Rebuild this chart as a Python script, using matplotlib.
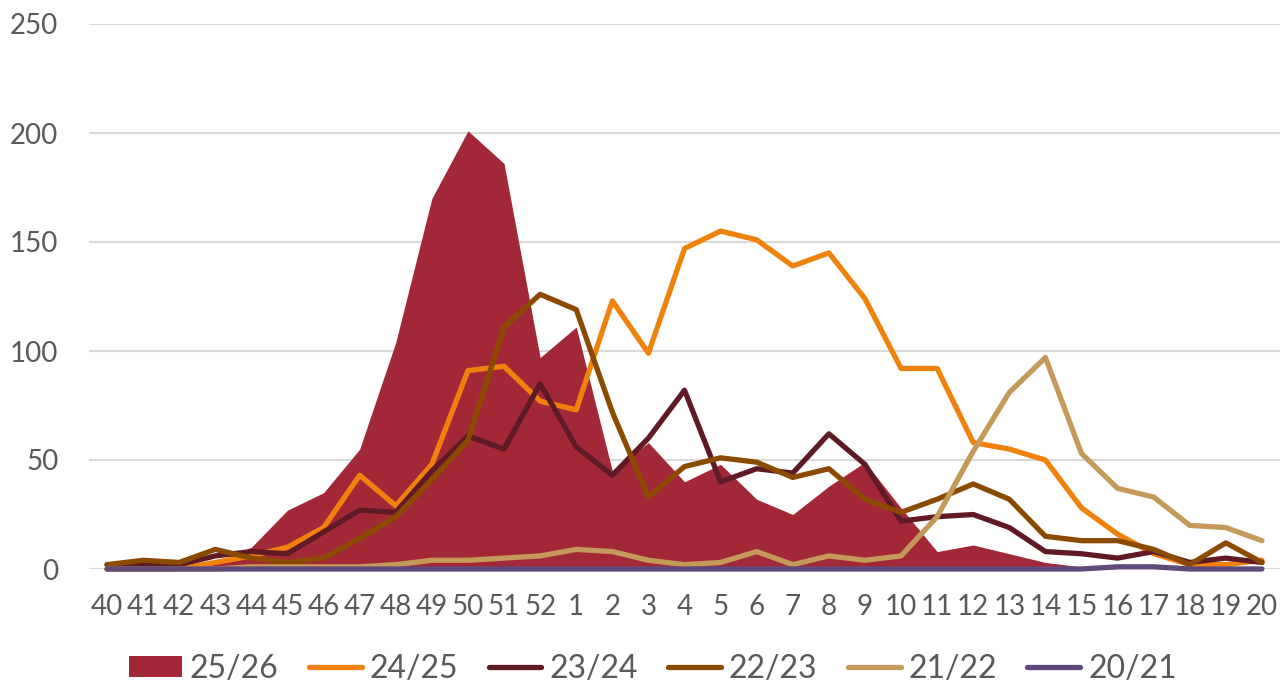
import matplotlib
matplotlib.use('Agg')
from matplotlib import pyplot as plt
import numpy as np

plt.rcParams['font.family'] = ['Lato', 'DejaVu Sans']

weeks = [str(w) for w in range(40, 53)] + [str(w) for w in range(1, 21)]

s2526 = [1, 1, 1, 3, 10, 27, 35, 55, 104, 170, 201, 186, 97, 111, 45, 58, 40,
         48, 32, 25, 38, 49, 28, 8, 11, 7, 3, 1, 0, 0, 0, 0, 0]
s2425 = [0, 0, 0, 3, 6, 10, 19, 43, 29, 48, 91, 93, 77, 73, 123, 99, 147,
         155, 151, 139, 145, 124, 92, 92, 58, 55, 50, 28, 16, 7, 2, 2, 4]
s2324 = [2, 2, 2, 6, 8, 7, 17, 27, 26, 45, 61, 55, 85, 56, 43, 60, 82,
         40, 46, 44, 62, 48, 22, 24, 25, 19, 8, 7, 5, 8, 3, 5, 3]
s2223 = [2, 4, 3, 9, 5, 3, 5, 14, 24, 41, 59, 111, 126, 119, 72, 33, 47,
         51, 49, 42, 46, 32, 26, 32, 39, 32, 15, 13, 13, 9, 2, 12, 3]
s2122 = [0, 0, 0, 0, 1, 1, 1, 1, 2, 4, 4, 5, 6, 9, 8, 4, 2,
         3, 8, 2, 6, 4, 6, 24, 54, 81, 97, 53, 37, 33, 20, 19, 13]
s2021 = [0, 0, 0, 0, 0, 0, 0, 0, 0, 0, 0, 0, 0, 0, 0, 0, 0,
         0, 0, 0, 0, 0, 0, 0, 0, 0, 0, 0, 1, 1, 0, 0, 0]

x = np.arange(len(weeks))

fig = plt.figure(figsize=(12.86, 6.84), dpi=100)
ax = fig.add_axes([89 / 1286, 1 - 569 / 684, 1191 / 1286, 545 / 684])

ax.fill_between(x, 0, s2526, color='#A22838', linewidth=0, label='25/26', zorder=2)
lines = [
    (s2425, '#F0820C', '24/25'),
    (s2324, '#5F1A25', '23/24'),
    (s2223, '#8C4A00', '22/23'),
    (s2122, '#C4995A', '21/22'),
    (s2021, '#604A7B', '20/21'),
]
for vals, col, lab in lines:
    ax.plot(x, vals, color=col, lw=3.8, label=lab, zorder=3,
            solid_capstyle='round', solid_joinstyle='round', clip_on=False)

ax.set_xlim(-0.5, len(weeks) - 0.5)
ax.set_ylim(0, 250)
ax.set_yticks([0, 50, 100, 150, 200, 250])
ax.set_xticks(x)
ax.set_xticklabels(weeks)
ax.grid(axis='y', color='#D9D9D9', lw=1.5, zorder=0)
ax.set_axisbelow(True)
for sp in ax.spines.values():
    sp.set_visible(False)
ax.tick_params(axis='both', length=0, labelsize=20, labelcolor='#595959')
ax.tick_params(axis='y', pad=22)
ax.tick_params(axis='x', pad=18)

fig.legend(loc='center', bbox_to_anchor=(653 / 1286, 1 - 669 / 684), ncol=6,
           frameon=False, fontsize=23, labelcolor='#595959',
           handlelength=1.65, handletextpad=0.25, columnspacing=0.95,
           handleheight=0.65)

fig.savefig('out.png', dpi=100)
